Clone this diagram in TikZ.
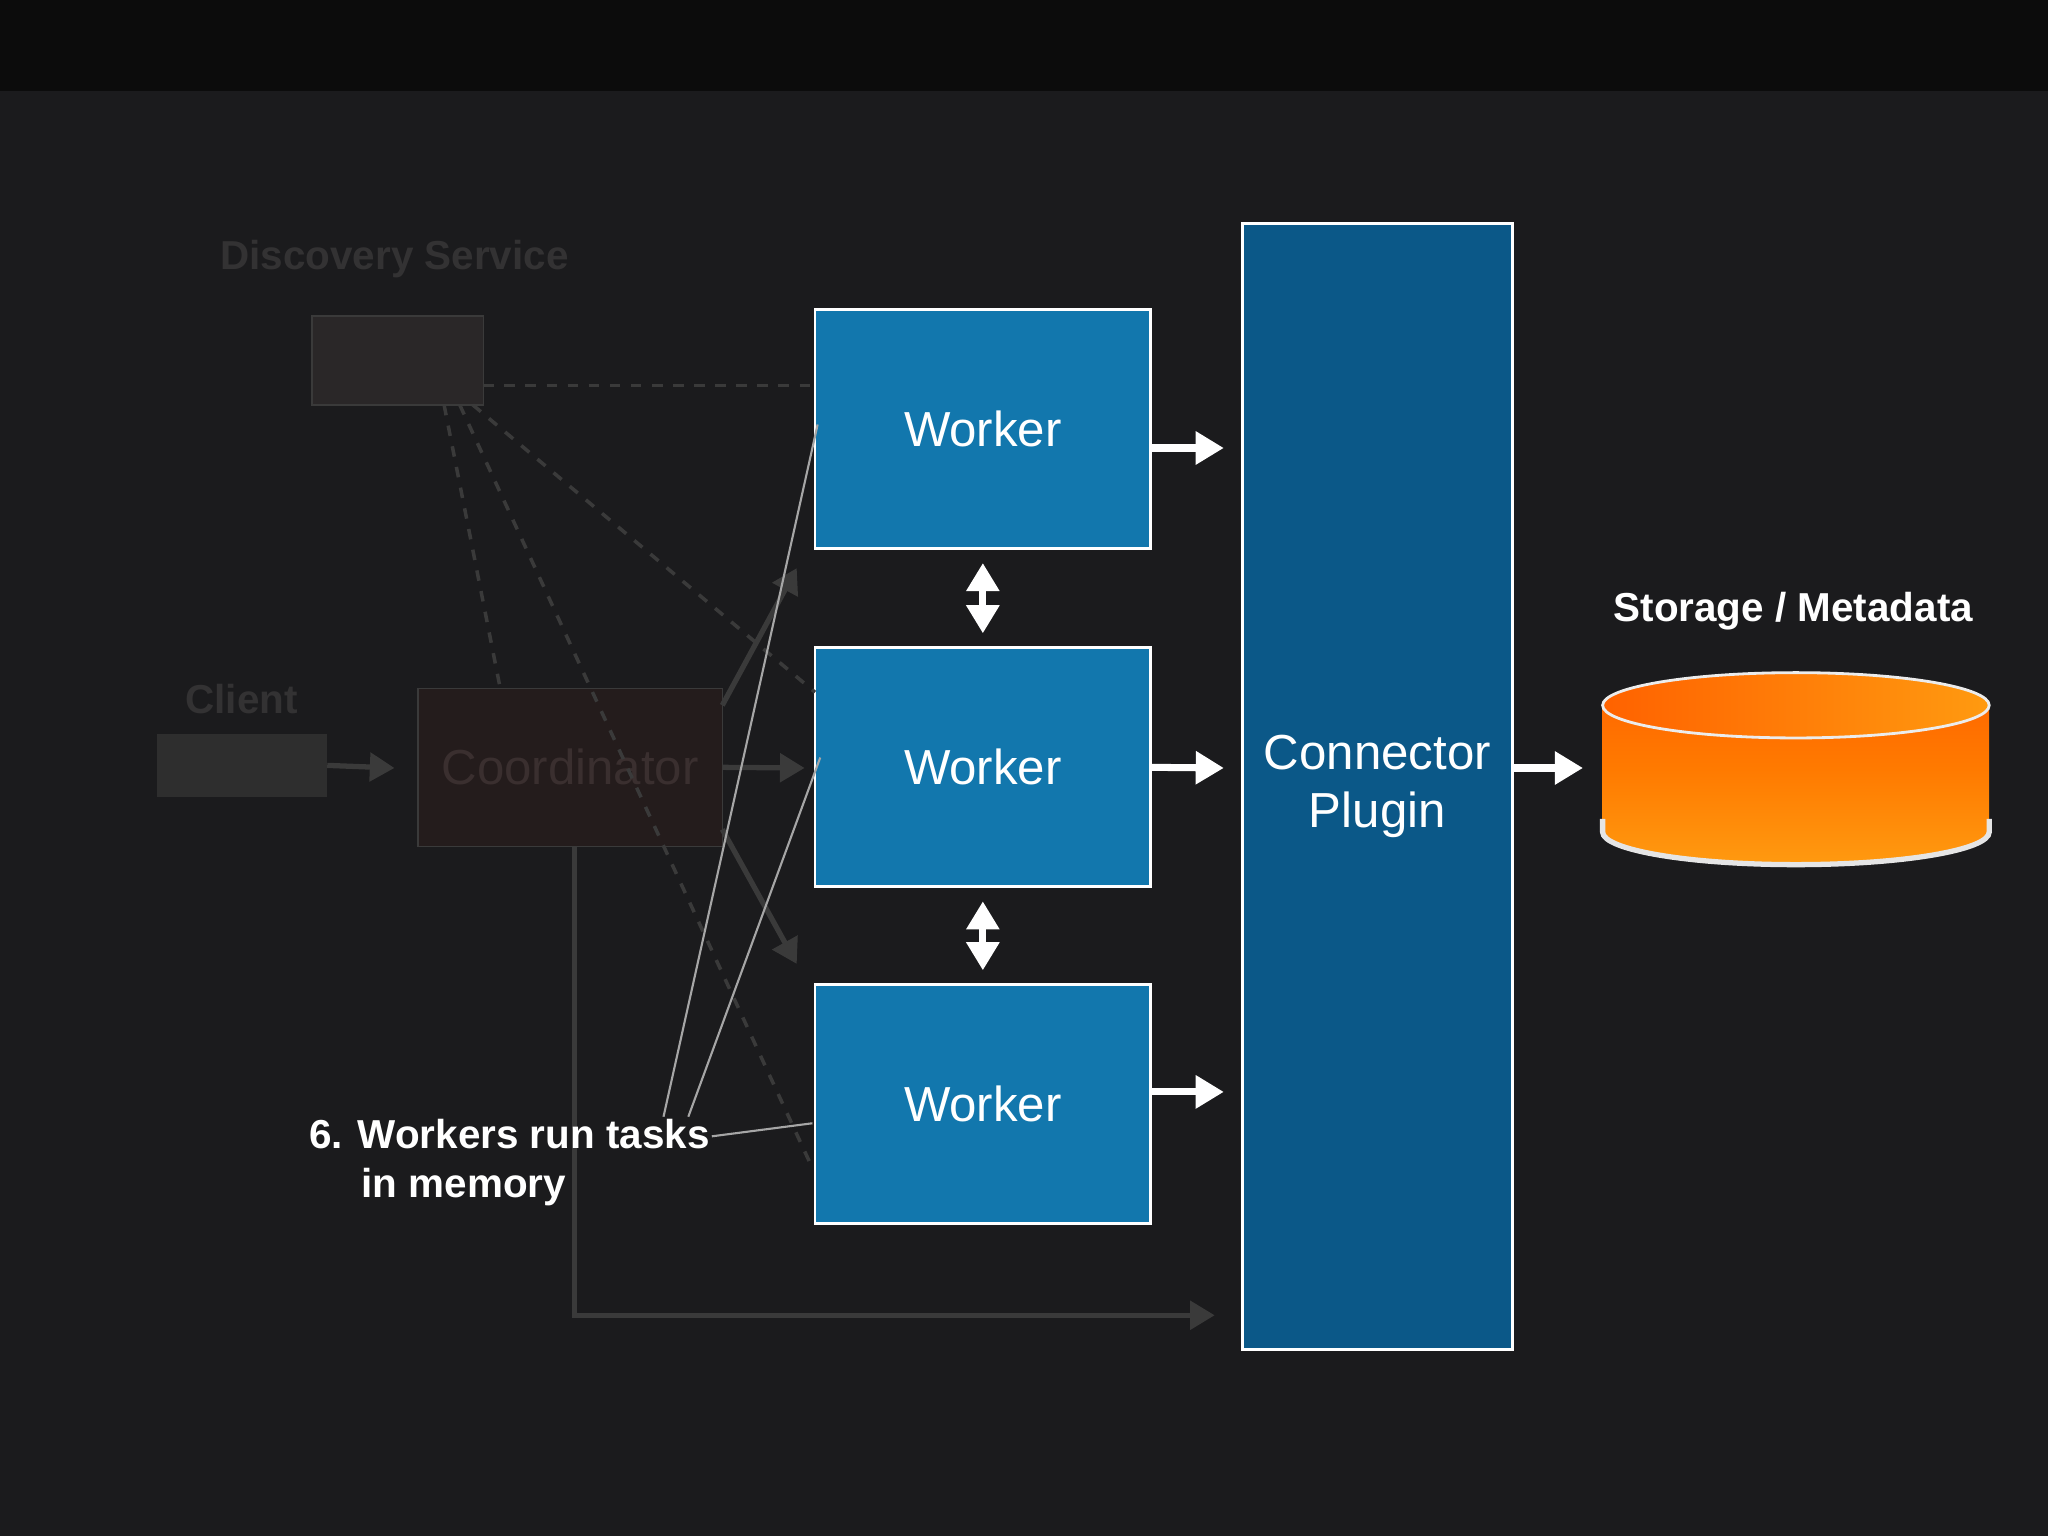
\documentclass[tikz,border=0pt]{standalone}
\usepackage{fontspec}
\setmainfont{Liberation Sans}
\usetikzlibrary{arrows.meta,shapes.geometric,calc}
\definecolor{bg}{HTML}{1B1B1D}
\definecolor{topbar}{HTML}{0C0C0C}
\definecolor{wk}{HTML}{1277AD}
\definecolor{cp}{HTML}{0B5888}
\definecolor{dim}{HTML}{3A3A3A}
\definecolor{dimtxt}{HTML}{333233}
\definecolor{dsfill}{HTML}{2A2728}
\definecolor{clfill}{HTML}{2E2E2E}
\definecolor{cofill}{HTML}{241C1C}
\definecolor{cotxt}{HTML}{3A2F2F}
\definecolor{orA}{HTML}{FF6200}
\definecolor{orB}{HTML}{FF9A10}
\definecolor{orC}{HTML}{FF7A00}
\begin{document}
\begin{tikzpicture}[x=0.013061cm,y=-0.013061cm,
  worker/.style={draw=white,line width=0.8pt,fill=wk,minimum width=257*0.013061cm,minimum height=183*0.013061cm,text=white,font=\fontsize{14}{16}\selectfont},
  arr/.style={white,line width=2pt,-{Triangle[length=8pt,width=9pt]}},
  darr/.style={white,line width=2pt,{Triangle[length=8pt,width=9pt]}-{Triangle[length=8pt,width=9pt]}},
  dimarr/.style={dim,line width=1.5pt,-{Triangle[length=7pt,width=8pt]}},
  dsh/.style={dim,line width=1pt,dashed},
  ptr/.style={gray!70,line width=0.6pt}]
\fill[bg] (0,0) rectangle (1568,1176);
\fill[topbar] (0,0) rectangle (1568,70);
\useasboundingbox (0,0) rectangle (1568,1176);
% discovery
\node[text=dimtxt,font=\bfseries\fontsize{11.5}{14}\selectfont] (dst) at (302,198) {Discovery Service};
\node[draw=dim,fill=dsfill,minimum width=131*0.013061cm,minimum height=68*0.013061cm] (ds) at (304.5,276) {};
% client
\node[text=dimtxt,font=\bfseries\fontsize{11.5}{14}\selectfont] (clt) at (185,535) {Client};
\node[fill=clfill,minimum width=130*0.013061cm,minimum height=48*0.013061cm] (cl) at (185,586) {};
% coordinator
\node[draw=dim,fill=cofill,minimum width=233*0.013061cm,minimum height=121*0.013061cm,text=cotxt,font=\fontsize{14}{16}\selectfont] (co) at (436.5,587.5) {Coordinator};
\draw[dimarr] (cl.east) -- (302,588) coordinate (ce);
% workers
\node[worker] (w1) at (752.5,328.5) {Worker};
\node[worker] (w2) at (752.5,587.5) {Worker};
\node[worker] (w3) at (752.5,845.5) {Worker};
% dashed discovery lines
\draw[dsh] (370,295) -- (w1.west |- 0,295);
\draw[dsh] (340,310) -- (383,527);
\draw[dsh] (352,310) -- (620,890);
\draw[dsh] (362,310) -- (624,530);
% coordinator arrows
\draw[dimarr] (co.east) -- (616,588) coordinate (c1);
\draw[dimarr] (553,540) -- (610,435) coordinate (c2);
\draw[dimarr] (553,635) -- (610,738) coordinate (c3);
\draw[dimarr] (440,648) -- (440,1007) -- (930,1007) coordinate (c4);
% plugin
\node[draw=white,line width=0.8pt,fill=cp,minimum width=207*0.013061cm,minimum height=862*0.013061cm] (cp) at (1054.5,602) {};
\node[text=white,align=center,font=\fontsize{14}{16.5}\selectfont] (cpt) at (1054.5,602) {Connector\\Plugin};
\draw[darr] ($(w1.south)+(0,10)$) -- ($(w2.north)+(0,-10)$);
\draw[darr] ($(w2.south)+(0,10)$) -- ($(w3.north)+(0,-10)$);
\draw[arr] (w1.east|-0,343) -- (937,343);
\draw[arr] (w2.east) -- (937,588);
\draw[arr] (w3.east|-0,836) -- (937,836);
\draw[arr] (cp.east|-0,588) -- (1212,588);
% cylinder
\shade[top color=orA,bottom color=orB,middle color=orC] (1227,540) -- (1227,637) arc[start angle=180,end angle=0,x radius=148,y radius=25] -- (1523,540) arc[start angle=0,end angle=-180,x radius=148,y radius=25] -- cycle;
\draw[white!80!gray,line width=1.5pt] (1227,627) -- (1227,637) arc[start angle=180,end angle=0,x radius=148,y radius=25] -- (1523,627);
\shade[left color=orA,right color=orB] (1375,540) ellipse[x radius=148,y radius=25];
\draw[white!85!gray,line width=0.8pt] (1375,540) ellipse[x radius=148,y radius=25];
\node[text=white,font=\bfseries\fontsize{11.5}{14}\selectfont] (st) at (1373,468) {Storage / Metadata};
% label
\node[text=white,font=\bfseries\fontsize{11.5}{14}\selectfont,align=left] (lb) at (390,890) {6. Workers run tasks\\\hspace*{1.3em}in memory};
\draw[ptr] (508,855) -- (626,325);
\draw[ptr] (527,855) -- (628,580);
\draw[ptr] (545,870) -- (622,860);
\end{tikzpicture}
\end{document}
